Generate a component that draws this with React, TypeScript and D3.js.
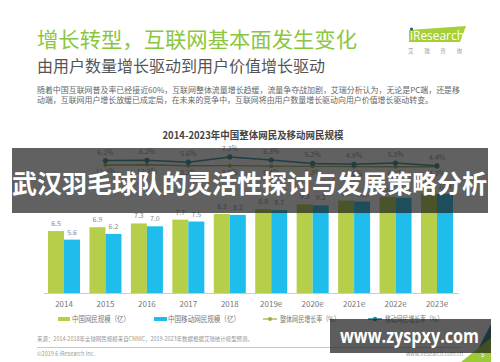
import React from "react";
import * as d3 from "d3";

const years = ["2014", "2015", "2016", "2017", "2018", "2019e", "2020e", "2021e", "2022e", "2023e"];
const netizens = [6.5, 6.9, 7.3, 7.7, 8.3, 8.8, 9.3, 9.7, 10.1, 10.4];
const mobileNetizens = [5.6, 6.2, 7.0, 7.5, 8.2, 8.7, 9.2, 9.6, 10.0, 10.4];
const rateYears = ["2015", "2016", "2017", "2018", "2019e", "2020e", "2021e", "2022e", "2023e"];
const overallRate = [6.1, 6.2, 5.6, 7.3, 6.3, 5.2, 4.9, 5.3, 4.4];
const mobileRate = [11.3, 12.2, 8.2, 8.5, 6.4, 5.3, 4.6, 4.3, 4.2];
const legendLabels = ["中国网民规模（亿）", "中国移动网民规模（亿）", "整体网民增长率（%）", "移动网民增长率（%）"];

const FONT = "'Noto Sans CJK SC', 'Noto Sans', sans-serif";
const GREEN = "#b6cf4a";
const BLUE = "#1fbdeb";
const TEAL = "#23879c";
const OLIVE = "#9aae3a";

export default function App() {
  const baseY = 293;
  const x = d3.scaleBand<string>().domain(years).range([43.3, 457.7]).padding(0);
  const sub = d3.scaleBand<string>().domain(["a", "b"]).range([0, 32]);
  const y = d3.scaleLinear().domain([0, 10]).range([baseY, baseY - 95.3]);
  const yTeal = d3.scaleLinear().domain([0, 10]).range([179.4, 148.6]);
  const yOlive = d3.scaleLinear().domain([0, 100]).range([167.8, 142.8]);
  const cx = (k: string) => (x(k) as number) + x.bandwidth() / 2;

  const tealLine = d3.line<number>().x((_, i) => cx(rateYears[i])).y((d) => yTeal(d));
  const oliveLine = d3.line<number>().x((_, i) => cx(rateYears[i])).y((d) => yOlive(d));

  const legendX = [58, 154, 263, 368];
  const legendW = [58, 72, 60, 58];

  return (
    <svg width={500} height={362} style={{ position: "absolute", left: 0, top: 0, background: "#fff" }} fontFamily={FONT}>
      <rect x={0} y={0} width={500} height={362} fill="#fff" />
      {/* header */}
      <text x={37} y={47} fontSize={21} fill="#8cc63f" textLength={320} lengthAdjust="spacingAndGlyphs">增长转型，互联网基本面发生变化</text>
      <text x={37} y={72} fontSize={16} fill="#555" textLength={288} lengthAdjust="spacingAndGlyphs">由用户数量增长驱动到用户价值增长驱动</text>
      <text x={37} y={93} fontSize={8} fill="#666" textLength={423} lengthAdjust="spacingAndGlyphs">随着中国互联网普及率已经接近60%，互联网整体流量增长趋缓，流量争夺战加剧，艾瑞分析认为，无论是PC端，还是移</text>
      <text x={37} y={103} fontSize={8} fill="#666" textLength={396} lengthAdjust="spacingAndGlyphs">动端，互联网用户增长放缓已成定局，在未来的竞争中，互联网将由用户数量增长驱动向用户价值增长驱动转变。</text>
      {/* logo */}
      <polygon points="409,30 466,26 460,42 409,42" fill="#a6cf38" />
      <text x={410} y={40} fontSize={12} fill="#fff" fontFamily="'Open Sans', sans-serif" textLength={54} lengthAdjust="spacingAndGlyphs">iResearch</text>
      <circle cx={411.5} cy={29} r={1.5} fill="#1d4f91" />
      <text x={408} y={53} fontSize={5.5} fill="#999" textLength={54} lengthAdjust="spacing">艾瑞咨询</text>

      {/* chart title */}
      <text x={253} y={139} fontSize={10} fontWeight="bold" fill="#444" textAnchor="middle" textLength={181} lengthAdjust="spacingAndGlyphs">2014-2023年中国整体网民及移动网民规模</text>

      {/* bars */}
      {years.map((k, i) => (
        <g key={k}>
          <rect x={(x(k) as number) + x.bandwidth() / 2 - 16 + (sub("a") as number)} y={y(netizens[i])} width={sub.bandwidth()} height={baseY - y(netizens[i])} fill={GREEN} />
          <rect x={(x(k) as number) + x.bandwidth() / 2 - 16 + (sub("b") as number)} y={y(mobileNetizens[i])} width={sub.bandwidth()} height={baseY - y(mobileNetizens[i])} fill={BLUE} />
          <text x={cx(k) - 8} y={y(netizens[i]) - 5} fontSize={7} fill="#888" textAnchor="middle">{netizens[i].toFixed(1)}</text>
          <text x={cx(k) + 8} y={y(mobileNetizens[i]) - 5} fontSize={7} fill="#888" textAnchor="middle">{mobileNetizens[i].toFixed(1)}</text>
          <text x={cx(k)} y={307} fontSize={8} fill="#777" textAnchor="middle">{k}</text>
        </g>
      ))}
      <line x1={44} x2={459} y1={baseY + 0.5} y2={baseY + 0.5} stroke="#ccc" strokeWidth={1} />

      {/* lines */}
      <path d={oliveLine(mobileRate) as string} fill="none" stroke={OLIVE} strokeWidth={1.3} />
      {mobileRate.map((v, i) => (
        <g key={"o" + i}>
          <circle cx={cx(rateYears[i])} cy={yOlive(v)} r={2} fill={OLIVE} />
          <text x={cx(rateYears[i])} y={yOlive(v) + 9} fontSize={7} fill="#888" textAnchor="middle">{v.toFixed(1)}%</text>
        </g>
      ))}
      <path d={tealLine(overallRate) as string} fill="none" stroke={TEAL} strokeWidth={1.5} />
      {overallRate.map((v, i) => (
        <g key={"t" + i}>
          <circle cx={cx(rateYears[i])} cy={yTeal(v)} r={2.6} fill={TEAL} />
          <text x={cx(rateYears[i])} y={yTeal(v) - 6} fontSize={7} fill="#888" textAnchor="middle">{v.toFixed(1)}%</text>
        </g>
      ))}

      {/* overlay banner */}
      <rect x={12} y={148} width={476} height={65} fill="rgba(30,30,30,0.7)" />
      <text x={12} y={193} fontSize={25} fontWeight="bold" fill="#fff" textLength={475} lengthAdjust="spacingAndGlyphs">武汉羽毛球队的灵活性探讨与发展策略分析</text>

      {/* legend */}
      <rect x={legendX[0]} y={317} width={12} height={4} fill={GREEN} />
      <rect x={legendX[1]} y={317} width={13} height={4} fill={BLUE} />
      <line x1={legendX[2]} x2={legendX[2] + 14} y1={319} y2={319} stroke={OLIVE} strokeWidth={1.2} />
      <circle cx={legendX[2] + 7} cy={319} r={2} fill={OLIVE} />
      <line x1={legendX[3]} x2={legendX[3] + 14} y1={319} y2={319} stroke={TEAL} strokeWidth={1.5} />
      <circle cx={legendX[3] + 7} cy={319} r={2.2} fill={TEAL} />
      {legendLabels.map((l, i) => (
        <text key={l} x={legendX[i] + (i < 2 ? (i === 0 ? 14 : 14) : 17)} y={322} fontSize={7.5} fill="#777" textLength={legendW[i]} lengthAdjust="spacingAndGlyphs">{l}</text>
      ))}

      {/* footer */}
      <text x={37} y={341} fontSize={6} fill="#999" textLength={216} lengthAdjust="spacingAndGlyphs">来源：2014-2018年全球网民规模来自CNNIC，2019-2023年数据根据艾瑞统计模型预测。</text>
      <line x1={37} x2={460} y1={347.5} y2={347.5} stroke="#bbb" strokeWidth={0.8} />
      <text x={37} y={356} fontSize={6} fill="#999" textLength={58} lengthAdjust="spacingAndGlyphs">©2019.6 iResearch Inc.</text>
      <text x={406} y={356} fontSize={6} fill="#999" textLength={57} lengthAdjust="spacingAndGlyphs">www.iresearch.com.cn</text>
      <polygon points="476,353 491,324 491,353" fill="#1b6f86" />
      <polygon points="461,362 491,338 491,362" fill="#9cc83a" />
      <text x={481} y={357} fontSize={6} fill="#fff">5</text>

      {/* watermark */}
      <rect x={330} y={319} width={161} height={34} fill="rgba(30,30,30,0.72)" />
      <text x={340} y={343} fontSize={19} fontWeight="bold" fill="#fff" fontFamily="'Open Sans', 'DejaVu Sans', sans-serif" textLength={139} lengthAdjust="spacingAndGlyphs">www.zyspxy.com</text>
    </svg>
  );
}
